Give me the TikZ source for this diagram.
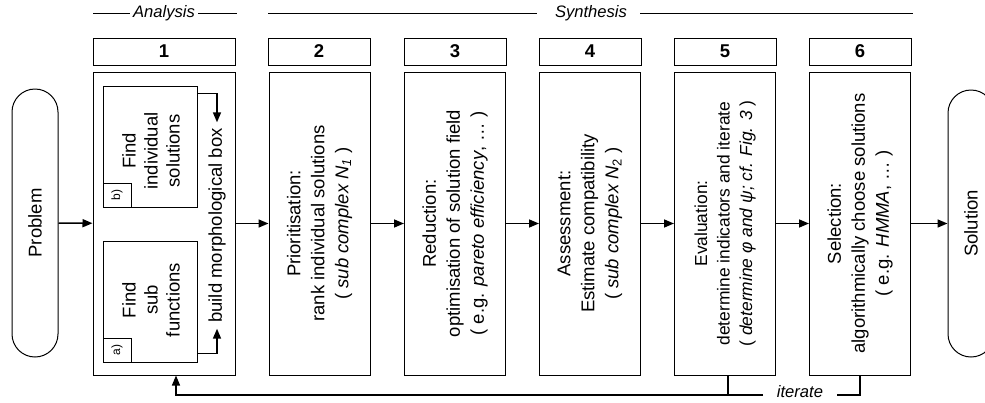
\documentclass[tikz,border=0pt]{standalone}
\usepackage{fontspec}
\setmainfont{Liberation Sans}
\usetikzlibrary{arrows.meta}
\newcommand{\bodyfont}{\fontsize{18.5}{24}\selectfont}
\newcommand{\evalfont}{\fontsize{17.4}{22.5}\selectfont}
\newcommand{\innerfont}{\fontsize{18.5}{22}\selectfont}
\newcommand{\headfont}{\fontsize{16.6}{20}\selectfont\itshape}
\newcommand{\smallfont}{\fontsize{12}{14}\selectfont}
\tikzset{
  box/.style={draw, line width=1pt, inner sep=0pt, minimum width=101pt, minimum height=303pt},
  numbox/.style={draw, line width=1pt, inner sep=0pt, minimum width=102pt, minimum height=27pt, font=\bodyfont\bfseries},
  innerbox/.style={draw, line width=1pt, inner sep=0pt, minimum width=94pt, minimum height=121pt},
  tagbox/.style={draw, line width=1pt, inner sep=0pt, minimum width=28pt, minimum height=23.5pt, font=\smallfont},
  rtext/.style={rotate=90, align=center, inner sep=0pt},
  stadium/.style={draw, line width=1pt, rounded corners=23pt, minimum width=46pt, inner sep=0pt},
  arr/.style={line width=1.6pt, -{Triangle[length=10pt,width=8pt]}},
  loopline/.style={line width=1.4pt},
  hline/.style={line width=1pt}
}
\begin{document}
\begin{tikzpicture}[x=1pt,y=-1pt]
\useasboundingbox (0,0) rectangle (985,402);

% headers
\node[font=\headfont, inner sep=0pt] (hana) at (164,13) {Analysis};
\node[font=\headfont, inner sep=0pt] (hsyn) at (591,13) {Synthesis};
\draw[hline] (93,13) -- (130,13);
\draw[hline] (198,13) -- (237,13);
\draw[hline] (268,13) -- (537,13);
\draw[hline] (640,13) -- (913,13);

% number boxes
\node[numbox, minimum width=142pt] (n1) at (164,51.5) {1};
\node[numbox] (n2) at (319,51.5) {2};
\node[numbox] (n3) at (455,51.5) {3};
\node[numbox] (n4) at (590,51.5) {4};
\node[numbox] (n5) at (725,51.5) {5};
\node[numbox] (n6) at (860,51.5) {6};

% main boxes
\node[box, minimum width=142pt] (b1) at (164,223.5) {};
\node[box] (b2) at (319.5,223.5) {};
\node[box] (b3) at (455,223.5) {};
\node[box] (b4) at (590,223.5) {};
\node[box] (b5) at (725,223.5) {};
\node[box] (b6) at (860,223.5) {};

\node[rtext, font=\bodyfont] (t2) at (b2) {Prioritisation:\\rank individual solutions\\( \textit{sub complex N\textsubscript{1}} )};
\node[rtext, font=\bodyfont] (t3) at (b3) {Reduction:\\optimisation of solution field\\( e.g. \textit{pareto efficiency}, … )};
\node[rtext, font=\bodyfont] (t4) at (b4) {Assessment:\\Estimate compatibility\\( \textit{sub complex N}\textsubscript{2} )};
\node[rtext, font=\evalfont] (t5) at (b5) {Evaluation:\\determine indicators and iterate\\( \textit{determine φ and ψ; cf. Fig. 3} )};
\node[rtext, font=\bodyfont] (t6) at (b6) {Selection:\\algorithmically choose solutions\\( e.g. \textit{HMMA}, … )};

% inner boxes of step 1
\node[innerbox] (ib) at (150,146.5) {};
\node[innerbox] (ia) at (150,301.5) {};
\node[tagbox, anchor=south west] (tb) at (ib.south west) {};
\node[tagbox, anchor=south west] (ta) at (ia.south west) {};
\node[rotate=90, font=\smallfont, inner sep=0pt] (tbl) at (tb) {b)};
\node[rotate=90, font=\smallfont, inner sep=0pt] (tal) at (ta) {a)};
\node[rtext, font=\innerfont] (tib) at (151,151) {Find\\individual\\solutions};
\node[rtext, font=\innerfont] (tia) at (151,300) {Find\\sub\\functions};
\node[rotate=90, inner sep=0pt, minimum width=206pt, font=\bodyfont] (morph) at (217,225.5) {build morphological box};
\draw[arr] ([yshift=9pt]ia.south east) -| (morph.west);
\draw[arr] ([yshift=-8pt]ib.north east) -| (morph.east);

% terminals
\node[stadium, minimum height=268pt] (prob) at (35,223) {};
\node[rotate=90, font=\bodyfont, inner sep=0pt] (probt) at (prob) {Problem};
\node[stadium, minimum height=267pt] (sol) at (971,223.5) {};
\node[rotate=90, font=\bodyfont, inner sep=0pt] (solt) at (sol) {Solution};

% flow arrows
\draw[arr] (prob) -- (b1);
\draw[arr] (b1) -- (b2);
\draw[arr] (b2) -- (b3);
\draw[arr] (b3) -- (b4);
\draw[arr] (b4) -- (b5);
\draw[arr] (b5) -- (b6);
\draw[arr] (b6) -- (sol);

% iterate loop
\node[font=\headfont, inner sep=0pt] (iter) at (800,391.5) {iterate};
\coordinate (ie) at (837,395);
\coordinate (iw) at (763,395);
\draw[loopline] (b6.south) |- (ie);
\draw[loopline] ([xshift=3pt]b5.south) -- ([xshift=3pt]b5.south |- iw);
\draw[loopline, -{Triangle[length=10pt,width=8pt]}] (iw) -| ([xshift=12pt]b1.south);
\end{tikzpicture}
\end{document}
